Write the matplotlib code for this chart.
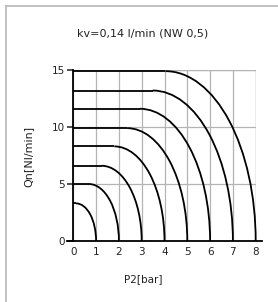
import matplotlib
matplotlib.use("Agg")
import matplotlib.pyplot as plt
from matplotlib.patches import Arc
from matplotlib.lines import Line2D

# flow curves, one per inlet pressure P1 (bar): flat at the choked flow up to
# the knee, then a quarter ellipse down to zero flow at P2 = P1
p1_bar = [1, 2, 3, 4, 5, 6, 7, 8]
qn_max = [3.3, 5.0, 6.6, 8.3, 9.9, 11.6, 13.2, 14.9]
p2_knee = [0.12, 0.68, 1.24, 1.80, 2.36, 2.92, 3.48, 4.04]

x_ticks = [0, 1, 2, 3, 4, 5, 6, 7, 8]
y_ticks = [0, 5, 10, 15]

W, H = 278, 302
fig = plt.figure(figsize=(W / 100, H / 100), dpi=100)
ax = fig.add_axes([73.3 / W, 1 - 241 / H, 182.4 / W, 171 / H])

for p1, qm, kn in zip(p1_bar, qn_max, p2_knee):
    ax.plot([0, kn], [qm, qm], color="black", lw=1.3, solid_capstyle="butt",
            zorder=3, clip_on=False)
    ax.add_patch(Arc((kn, 0), 2 * (p1 - kn), 2 * qm, theta1=0, theta2=90,
                     color="black", lw=1.3, zorder=3, clip_on=False))

ax.set_xlim(0, 8)
ax.set_ylim(0, 15)
ax.set_xticks(x_ticks)
ax.set_yticks(y_ticks)
ax.grid(True, color="#b4b4b4", lw=0.9)
ax.set_axisbelow(True)
for s in ("top", "right"):
    ax.spines[s].set_visible(False)
ax.spines["left"].set_linewidth(1.3)
ax.spines["bottom"].set_linewidth(1.3)
ax.spines["bottom"].set_bounds(-0.28, 8.28)
ax.tick_params(axis="x", length=0, pad=4, labelsize=7.5, colors="#222222")
ax.tick_params(axis="y", length=4, width=1.1, pad=2, labelsize=7.5,
               colors="#222222", direction="out")

# right and top grid edges
ax.axvline(8, color="#b4b4b4", lw=0.9, zorder=0)
ax.axhline(15, color="#b4b4b4", lw=0.9, zorder=0)

fig.text(143 / W, 1 - 33 / H, "kv=0,14 l/min (NW 0,5)", ha="center",
         va="center", fontsize=8, color="#222222")
fig.text(143 / W, 1 - 279 / H, "P2[bar]", ha="center", va="center",
         fontsize=7.5, color="#222222")
fig.text(28 / W, 1 - 156 / H, "Qn[Nl/min]", ha="center", va="center",
         rotation=90, fontsize=8, color="#222222")

# light frame on the left and top edge
fig.add_artist(Line2D([5.5 / W, 5.5 / W], [0, 1 - 5.5 / H],
                      transform=fig.transFigure, color="#bcbcbc", lw=1.3))
fig.add_artist(Line2D([5.5 / W, 1], [1 - 5.5 / H, 1 - 5.5 / H],
                      transform=fig.transFigure, color="#bcbcbc", lw=1.3))

fig.savefig("out.png", dpi=100)
